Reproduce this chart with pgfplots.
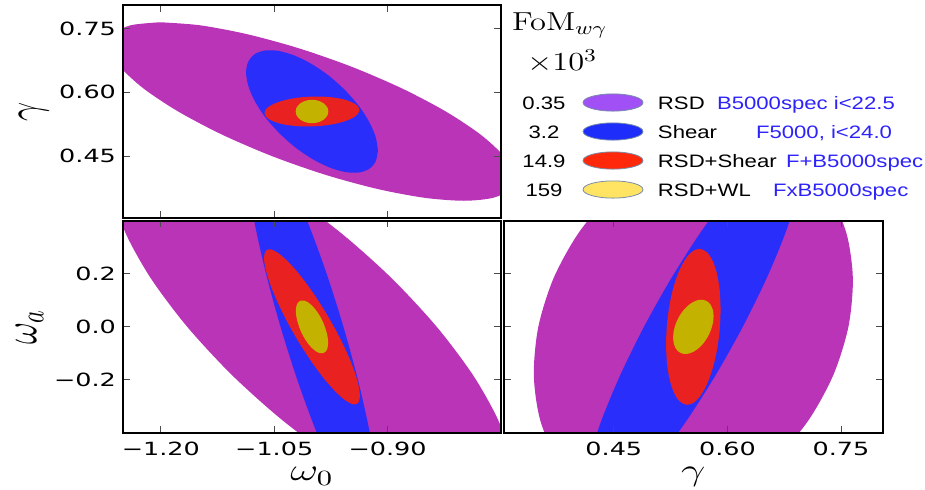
\documentclass[border=0pt]{standalone}
\usepackage{fix-cm}
\usepackage[no-math]{fontspec}
\usepackage{graphicx}
\usepackage{pgfplots}
\pgfplotsset{compat=1.18}
\newfontfamily\tickfont[FakeStretch=1.4]{DejaVu Sans}
\newfontfamily\legfont[FakeStretch=1.23]{Liberation Sans}
\definecolor{purp}{RGB}{185,52,183}
\definecolor{blu}{RGB}{42,46,250}
\definecolor{rd}{RGB}{234,33,33}
\definecolor{yel}{RGB}{196,178,0}
\definecolor{lpurp}{RGB}{160,80,245}
\definecolor{lblu}{RGB}{30,45,250}
\definecolor{lrd}{RGB}{255,40,10}
\definecolor{lyel}{RGB}{255,228,100}
\definecolor{lout}{RGB}{120,140,170}
\definecolor{txtblue}{RGB}{45,35,250}
\begin{document}
\begin{tikzpicture}
\pgfplotsset{
  tri/.style={scale only axis, axis on top,
    axis line style={line width=1pt, black},
    tick align=inside, major tick length=3.3pt,
    tick style={black!70, line width=0.5pt},
    tick label style={font=\fontsize{9.1}{11}\selectfont\tickfont},
    /pgf/number format/assume math mode=true,
    xticklabel style={inner sep=0pt, yshift=-4.35pt},
    xlabel style={at={(axis description cs:0.5,0)}, anchor=base, inner sep=0pt, yshift=-24pt, font=\fontsize{15.5}{18}\selectfont},
    ylabel style={anchor=center, font=\fontsize{17}{20}\selectfont},
  },
  ell/.style={fill=#1, draw=none, smooth, forget plot},
  emptyimg/.style={legend image code/.code={\path[draw=none,fill=none] (0pt,-4.5pt) -- (0pt,4.5pt);}},
  swatch/.style={legend image code/.code={\path[draw=none,fill=none] (0pt,-4.5pt) rectangle (42pt,4.5pt); \filldraw[fill=#1, draw=lout, line width=0.4pt] (19.5pt,0pt) ellipse [x radius=15pt, y radius=4.3pt];}},
}
\path[use as bounding box] (0,0) rectangle (462.5pt,-244.5pt);

% ---------------- top panel: w0 vs gamma ----------------
\begin{axis}[tri, at={(61.5pt,-2.5pt)}, anchor=north west,
  width=189pt, height=106.5pt,
  xmin=-1.25, xmax=-0.75, ymin=0.305, ymax=0.805,
  xtick={-1.2,-1.05,-0.9}, xticklabels={},
  ytick={0.45,0.6,0.75}, yticklabels={0.45,0.60,0.75},
  ylabel={\scalebox{1}[1.4]{$\gamma$}},
  ylabel style={at={(axis description cs:-0.236,0.5)}},
  legend columns=2, legend cell align=left,
  legend style={at={(axis description cs:1.0344,0.5845)}, anchor=north west,
    draw=none, fill=none, inner sep=0pt, outer sep=0pt,
    column sep=0pt, row sep=5.5pt,
    font=\fontsize{9}{11}\selectfont\legfont,
    nodes={inner sep=0pt, text height=7.5pt, text depth=0.5pt}},
]
\addplot[ell=purp] coordinates {(-1.201,0.7645) (-1.1483,0.7574) (-1.0856,0.7364) (-1.0169,0.7031) (-0.9472,0.6598) (-0.881,0.6092) (-0.823,0.555) (-0.777,0.5008) (-0.7462,0.4502) (-0.7327,0.4069) (-0.7374,0.3736) (-0.7601,0.3526) (-0.799,0.3455) (-0.8517,0.3526) (-0.9144,0.3736) (-0.9831,0.4069) (-1.0528,0.4502) (-1.119,0.5008) (-1.177,0.555) (-1.223,0.6092) (-1.2538,0.6598) (-1.2673,0.7031) (-1.2626,0.7364) (-1.2399,0.7574) (-1.201,0.7645)};
\addplot[ell=blu] coordinates {(-0.9128,0.4633) (-0.9158,0.4951) (-0.9245,0.5311) (-0.9383,0.5687) (-0.9564,0.6052) (-0.9774,0.6385) (-1.0,0.666) (-1.0226,0.6859) (-1.0436,0.697) (-1.0617,0.6983) (-1.0755,0.6899) (-1.0842,0.6723) (-1.0872,0.6467) (-1.0842,0.6149) (-1.0755,0.5789) (-1.0617,0.5413) (-1.0436,0.5048) (-1.0226,0.4715) (-1.0,0.444) (-0.9774,0.4241) (-0.9564,0.413) (-0.9383,0.4117) (-0.9245,0.4201) (-0.9158,0.4377) (-0.9128,0.4633)};
\addplot[ell=rd] coordinates {(-0.9372,0.5585) (-0.9393,0.5675) (-0.9456,0.5755) (-0.9556,0.5822) (-0.9686,0.5871) (-0.9837,0.5897) (-1.0,0.59) (-1.0163,0.5879) (-1.0314,0.5835) (-1.0444,0.5772) (-1.0544,0.5695) (-1.0607,0.5607) (-1.0628,0.5515) (-1.0607,0.5425) (-1.0544,0.5345) (-1.0444,0.5278) (-1.0314,0.5229) (-1.0163,0.5203) (-1.0,0.52) (-0.9837,0.5221) (-0.9686,0.5265) (-0.9556,0.5328) (-0.9456,0.5405) (-0.9393,0.5493) (-0.9372,0.5585)};
\addplot[ell=yel] coordinates {(-0.9784,0.555) (-0.9791,0.5621) (-0.9813,0.5687) (-0.9847,0.5744) (-0.9892,0.5787) (-0.9944,0.5815) (-1.0,0.5824) (-1.0056,0.5815) (-1.0108,0.5787) (-1.0153,0.5744) (-1.0187,0.5687) (-1.0209,0.5621) (-1.0216,0.555) (-1.0209,0.5479) (-1.0187,0.5413) (-1.0153,0.5356) (-1.0108,0.5313) (-1.0056,0.5285) (-1.0,0.5276) (-0.9944,0.5285) (-0.9892,0.5313) (-0.9847,0.5356) (-0.9813,0.5413) (-0.9791,0.5479) (-0.9784,0.555)};
% legend
\addlegendimage{emptyimg}
\addlegendentry{\makebox[30pt][c]{0.35}}
\addlegendimage{swatch=lpurp}
\addlegendentry{\makebox[29.5pt][l]{RSD}\textcolor{txtblue}{B5000spec i<22.5}}
\addlegendimage{emptyimg}
\addlegendentry{\makebox[30pt][c]{3.2}}
\addlegendimage{swatch=lblu}
\addlegendentry{\makebox[49pt][l]{Shear}\textcolor{txtblue}{F5000, i<24.0}}
\addlegendimage{emptyimg}
\addlegendentry{\makebox[30pt][c]{14.9}}
\addlegendimage{swatch=lrd}
\addlegendentry{\makebox[64pt][l]{RSD+Shear}\textcolor{txtblue}{F+B5000spec}}
\addlegendimage{emptyimg}
\addlegendentry{\makebox[30pt][c]{159}}
\addlegendimage{swatch=lyel}
\addlegendentry{\makebox[57.5pt][l]{RSD+WL}\textcolor{txtblue}{FxB5000spec}}
\end{axis}

% ---------------- bottom-left: w0 vs wa ----------------
\begin{axis}[tri, at={(61.5pt,-110.35pt)}, anchor=north west,
  width=189pt, height=106.15pt,
  xmin=-1.25, xmax=-0.75, ymin=-0.4, ymax=0.4,
  xtick={-1.2,-1.05,-0.9}, xticklabels={−1.20,−1.05,−0.90},
  ytick={-0.2,0,0.2}, yticklabels={−0.2,0.0,0.2},
  xlabel={\scalebox{1.4}[1]{$\omega_0$}},
  ylabel={\scalebox{1}[1.4]{$\omega_a$}},
  ylabel style={at={(axis description cs:-0.247,0.5)}},
]
\addplot[ell=purp] coordinates {(-1.2066,0.7016) (-1.1569,0.6777) (-1.0964,0.6076) (-1.0294,0.4961) (-0.9604,0.3508) (-0.8941,0.1816) (-0.835,0) (-0.7871,-0.1816) (-0.7538,-0.3508) (-0.7372,-0.4961) (-0.7386,-0.6076) (-0.7577,-0.6777) (-0.7934,-0.7016) (-0.8431,-0.6777) (-0.9036,-0.6076) (-0.9706,-0.4961) (-1.0396,-0.3508) (-1.1059,-0.1816) (-1.165,0) (-1.2129,0.1816) (-1.2462,0.3508) (-1.2628,0.4961) (-1.2614,0.6076) (-1.2423,0.6777) (-1.2066,0.7016)};
\addplot[ell=blu] coordinates {(-1.0769,0.743) (-1.0635,0.7177) (-1.0458,0.6434) (-1.025,0.5254) (-1.0025,0.3715) (-0.9797,0.1923) (-0.9584,0) (-0.9399,-0.1923) (-0.9255,-0.3715) (-0.9162,-0.5254) (-0.9126,-0.6434) (-0.9149,-0.7177) (-0.9231,-0.743) (-0.9365,-0.7177) (-0.9542,-0.6434) (-0.975,-0.5254) (-0.9975,-0.3715) (-1.0203,-0.1923) (-1.0416,0) (-1.0601,0.1923) (-1.0745,0.3715) (-1.0838,0.5254) (-1.0874,0.6434) (-1.0851,0.7177) (-1.0769,0.743)};
\addplot[ell=rd] coordinates {(-0.9365,-0.26) (-0.9387,-0.2164) (-0.945,-0.1582) (-0.9551,-0.089) (-0.9682,-0.014) (-0.9836,0.0621) (-1.0,0.134) (-1.0164,0.1967) (-1.0318,0.246) (-1.0449,0.2786) (-1.055,0.2922) (-1.0613,0.2858) (-1.0635,0.26) (-1.0613,0.2164) (-1.055,0.1582) (-1.0449,0.089) (-1.0318,0.014) (-1.0164,-0.0621) (-1.0,-0.134) (-0.9836,-0.1967) (-0.9682,-0.246) (-0.9551,-0.2786) (-0.945,-0.2922) (-0.9387,-0.2858) (-0.9365,-0.26)};
\addplot[ell=yel] coordinates {(-0.9787,-0.06) (-0.9794,-0.0373) (-0.9816,-0.012) (-0.9849,0.0142) (-0.9893,0.0393) (-0.9945,0.0618) (-1.0,0.08) (-1.0055,0.0928) (-1.0107,0.0993) (-1.0151,0.099) (-1.0184,0.092) (-1.0206,0.0787) (-1.0213,0.06) (-1.0206,0.0373) (-1.0184,0.012) (-1.0151,-0.0142) (-1.0107,-0.0393) (-1.0055,-0.0618) (-1.0,-0.08) (-0.9945,-0.0928) (-0.9893,-0.0993) (-0.9849,-0.099) (-0.9816,-0.092) (-0.9794,-0.0787) (-0.9787,-0.06)};
\end{axis}

% ---------------- bottom-right: gamma vs wa ----------------
\begin{axis}[tri, at={(252pt,-110.35pt)}, anchor=north west,
  width=189.35pt, height=106.15pt,
  xmin=0.305, xmax=0.805, ymin=-0.4, ymax=0.4,
  xtick={0.45,0.6,0.75}, xticklabels={0.45,0.60,0.75},
  ytick={-0.2,0,0.2}, yticklabels={},
  xlabel={\scalebox{1.4}[1]{$\gamma$}},
]
\addplot[ell=purp] coordinates {(0.6049,0.7016) (0.6562,0.6777) (0.7006,0.6076) (0.735,0.4961) (0.7573,0.3508) (0.7656,0.1816) (0.7597,0) (0.7398,-0.1816) (0.7073,-0.3508) (0.6644,-0.4961) (0.6142,-0.6076) (0.5598,-0.6777) (0.5051,-0.7016) (0.4538,-0.6777) (0.4094,-0.6076) (0.375,-0.4961) (0.3527,-0.3508) (0.3444,-0.1816) (0.3503,0) (0.3702,0.1816) (0.4027,0.3508) (0.4456,0.4961) (0.4958,0.6076) (0.5502,0.6777) (0.6049,0.7016)};
\addplot[ell=blu] coordinates {(0.6837,0.698) (0.6962,0.6742) (0.6991,0.6045) (0.6921,0.4936) (0.6759,0.349) (0.6513,0.1806) (0.6202,0) (0.5847,-0.1806) (0.5471,-0.349) (0.5101,-0.4936) (0.4761,-0.6045) (0.4476,-0.6742) (0.4263,-0.698) (0.4138,-0.6742) (0.4109,-0.6045) (0.4179,-0.4936) (0.4341,-0.349) (0.4587,-0.1806) (0.4898,0) (0.5253,0.1806) (0.5629,0.349) (0.5999,0.4936) (0.6339,0.6045) (0.6624,0.6742) (0.6837,0.698)};
\addplot[ell=rd] coordinates {(0.591,0.065) (0.5898,0.137) (0.5862,0.1996) (0.5805,0.2487) (0.573,0.2807) (0.5643,0.2936) (0.555,0.2866) (0.5457,0.26) (0.537,0.2157) (0.5295,0.1567) (0.5238,0.087) (0.5202,0.0114) (0.519,-0.065) (0.5202,-0.137) (0.5238,-0.1996) (0.5295,-0.2487) (0.537,-0.2807) (0.5457,-0.2936) (0.555,-0.2866) (0.5643,-0.26) (0.573,-0.2157) (0.5805,-0.1567) (0.5862,-0.087) (0.5898,-0.0114) (0.591,0.065)};
\addplot[ell=yel] coordinates {(0.5817,0.04) (0.5808,0.0629) (0.5781,0.0816) (0.5739,0.0948) (0.5684,0.1014) (0.5619,0.1012) (0.555,0.094) (0.5481,0.0804) (0.5416,0.0614) (0.5361,0.0382) (0.5319,0.0124) (0.5292,-0.0143) (0.5283,-0.04) (0.5292,-0.0629) (0.5319,-0.0816) (0.5361,-0.0948) (0.5416,-0.1014) (0.5481,-0.1012) (0.555,-0.094) (0.5619,-0.0804) (0.5684,-0.0614) (0.5739,-0.0382) (0.5781,-0.0124) (0.5808,0.0143) (0.5817,0.04)};
\end{axis}

% header of the figure-of-merit column
\node[anchor=base west, inner sep=0pt] at (255.85pt,-15.35pt) {\scalebox{1.25}[1]{\fontsize{13}{15}\selectfont $\mathrm{FoM}_{w\gamma}$}};
\node[anchor=base west, inner sep=0pt] at (263.35pt,-35.35pt) {\scalebox{1.25}[1]{\fontsize{13}{15}\selectfont $\times10^{3}$}};
\end{tikzpicture}
\end{document}
